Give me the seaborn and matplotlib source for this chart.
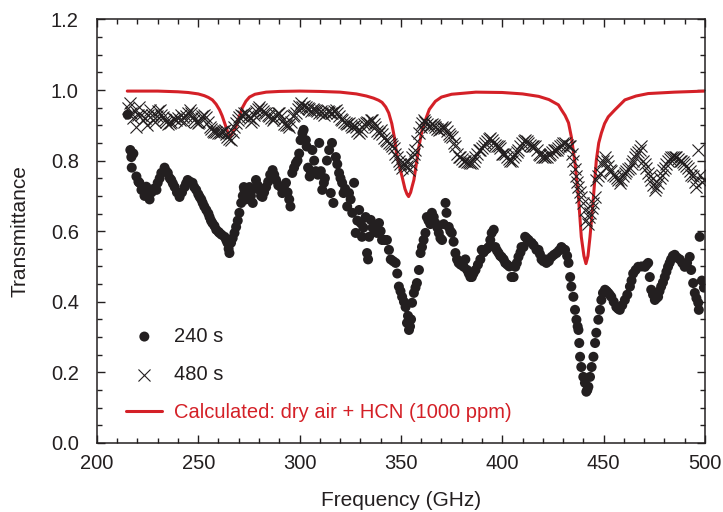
import numpy as np
import pandas as pd
import seaborn as sns
import matplotlib.pyplot as plt
from matplotlib.ticker import MultipleLocator

# measured transmittance, 240 s exposure (frequency GHz, transmittance)
pts_240 = [
    (215.2, 0.93), (216.5, 0.83), (217.0, 0.81), (217.2, 0.78), (218.0, 0.82), (219.5, 0.755),
    (220.5, 0.74), (221.0, 0.737), (222.0, 0.717), (222.6, 0.72), (223.5, 0.70), (224.4, 0.726),
    (225.2, 0.70), (226.0, 0.69), (227.0, 0.71), (228.0, 0.72), (229.4, 0.717), (230.0, 0.737),
    (231.0, 0.75), (231.8, 0.765), (233.4, 0.78), (234.2, 0.77), (235.0, 0.765), (236.0, 0.75),
    (236.7, 0.745), (237.5, 0.735), (238.4, 0.725), (239.5, 0.71), (240.8, 0.697), (242.0, 0.71),
    (243.3, 0.725), (244.0, 0.735), (244.8, 0.745), (246.0, 0.74), (247.2, 0.737), (248.0, 0.725),
    (249.0, 0.717), (250.0, 0.705), (250.7, 0.697), (251.5, 0.69), (252.2, 0.68), (253.0, 0.67),
    (254.0, 0.66), (255.0, 0.65), (255.6, 0.64), (256.3, 0.63), (257.0, 0.623), (258.0, 0.615),
    (258.9, 0.604), (260.0, 0.598), (260.5, 0.595), (261.5, 0.59), (263.0, 0.584), (263.8, 0.575),
    (264.4, 0.567), (265.0, 0.55), (265.4, 0.538), (266.2, 0.567), (267.0, 0.58), (267.9, 0.595),
    (268.7, 0.612), (269.5, 0.63), (270.3, 0.652), (271.2, 0.68), (272.0, 0.70), (272.5, 0.725),
    (272.8, 0.717), (273.5, 0.69), (274.5, 0.71), (275.3, 0.725), (276.0, 0.70), (276.9, 0.68),
    (277.5, 0.72), (278.5, 0.745), (279.3, 0.73), (280.2, 0.717), (281.0, 0.70), (281.7, 0.697),
    (282.5, 0.71), (283.5, 0.725), (284.5, 0.74), (285.5, 0.76), (286.7, 0.773), (287.5, 0.76),
    (288.4, 0.745), (289.5, 0.73), (290.8, 0.725), (291.5, 0.708), (292.3, 0.72), (293.3, 0.737),
    (294.1, 0.71), (294.9, 0.69), (295.5, 0.67), (296.4, 0.765), (297.3, 0.78), (298.2, 0.793),
    (299.0, 0.80), (299.8, 0.82), (300.5, 0.858), (301.4, 0.878), (302.0, 0.887), (303.1, 0.858),
    (303.5, 0.84), (304.2, 0.78), (305.0, 0.755), (305.5, 0.77), (306.3, 0.83), (307.2, 0.80),
    (308.0, 0.77), (309.0, 0.76), (309.7, 0.85), (310.5, 0.77), (311.2, 0.717), (312.0, 0.737),
    (312.5, 0.75), (313.5, 0.80), (314.6, 0.83), (315.4, 0.708), (316.0, 0.85), (316.7, 0.68),
    (317.9, 0.81), (318.6, 0.79), (319.5, 0.765), (320.2, 0.75), (321.0, 0.737), (321.7, 0.708),
    (322.5, 0.72), (323.5, 0.67), (324.4, 0.708), (325.2, 0.69), (326.0, 0.652), (326.9, 0.737),
    (327.7, 0.595), (328.5, 0.63), (329.4, 0.66), (330.2, 0.623), (330.8, 0.584), (331.5, 0.61),
    (332.6, 0.64), (333.3, 0.538), (333.8, 0.52), (334.3, 0.584), (335.1, 0.632), (336.0, 0.61),
    (337.0, 0.60), (338.2, 0.595), (339.2, 0.623), (340.0, 0.60), (340.7, 0.575), (341.9, 0.575),
    (343.1, 0.575), (344.1, 0.547), (345.0, 0.52), (346.2, 0.515), (347.4, 0.51), (348.2, 0.48),
    (349.0, 0.443), (349.8, 0.43), (350.6, 0.414), (351.5, 0.40), (352.3, 0.385), (353.0, 0.34),
    (353.5, 0.36), (354.0, 0.32), (354.5, 0.33), (355.0, 0.35), (355.5, 0.397), (356.4, 0.425),
    (357.2, 0.44), (357.9, 0.453), (358.9, 0.49), (359.7, 0.538), (360.4, 0.555), (361.2, 0.575),
    (362.1, 0.595), (362.8, 0.64), (363.6, 0.63), (364.5, 0.62), (365.3, 0.652), (366.2, 0.64),
    (367.0, 0.623), (368.0, 0.61), (368.7, 0.595), (369.5, 0.58), (370.3, 0.575), (371.1, 0.62),
    (372.0, 0.68), (372.5, 0.652), (373.6, 0.612), (374.4, 0.60), (375.1, 0.595), (376.0, 0.57),
    (376.9, 0.538), (377.7, 0.52), (378.5, 0.51), (379.5, 0.505), (381.0, 0.499), (381.8, 0.52),
    (382.7, 0.49), (383.5, 0.48), (384.3, 0.47), (385.0, 0.47), (385.8, 0.48), (386.8, 0.49),
    (388.0, 0.505), (389.2, 0.52), (389.9, 0.547), (390.8, 0.54), (391.6, 0.547), (392.5, 0.55),
    (393.3, 0.555), (394.1, 0.575), (394.8, 0.595), (395.8, 0.604), (396.6, 0.555), (397.4, 0.545),
    (398.2, 0.538), (399.0, 0.53), (399.7, 0.527), (400.7, 0.52), (401.5, 0.51), (402.5, 0.505),
    (403.5, 0.50), (404.6, 0.47), (405.6, 0.47), (406.4, 0.499), (407.2, 0.51), (408.0, 0.527),
    (409.0, 0.54), (409.5, 0.555), (410.5, 0.555), (411.3, 0.584), (412.0, 0.58), (413.0, 0.575),
    (414.5, 0.567), (415.5, 0.56), (416.9, 0.547), (417.9, 0.547), (418.6, 0.535), (419.4, 0.52),
    (420.3, 0.515), (421.2, 0.52), (421.8, 0.51), (423.0, 0.515), (424.3, 0.527), (425.5, 0.533),
    (426.8, 0.538), (428.0, 0.545), (429.2, 0.555), (430.0, 0.55), (431.0, 0.547), (432.0, 0.53),
    (432.7, 0.51), (433.5, 0.47), (434.1, 0.443), (435.1, 0.414), (435.9, 0.377), (436.6, 0.349),
    (437.2, 0.33), (437.6, 0.32), (438.0, 0.283), (438.4, 0.244), (439.0, 0.215), (440.0, 0.187),
    (440.8, 0.17), (441.5, 0.145), (442.0, 0.15), (442.5, 0.159), (443.3, 0.187), (444.1, 0.215),
    (445.0, 0.244), (445.8, 0.283), (446.4, 0.312), (447.4, 0.349), (448.2, 0.377), (448.9, 0.405),
    (449.7, 0.425), (450.7, 0.434), (451.5, 0.43), (452.3, 0.425), (453.0, 0.42), (453.8, 0.414),
    (455.0, 0.40), (456.3, 0.385), (457.2, 0.38), (458.0, 0.377), (459.2, 0.39), (460.5, 0.405),
    (461.7, 0.42), (463.0, 0.443), (463.8, 0.46), (464.6, 0.48), (465.8, 0.49), (467.1, 0.499),
    (468.7, 0.50), (470.4, 0.499), (471.2, 0.505), (472.0, 0.51), (472.8, 0.47), (473.5, 0.434),
    (474.4, 0.42), (475.3, 0.405), (476.1, 0.41), (476.9, 0.414), (477.6, 0.43), (478.4, 0.443),
    (479.3, 0.455), (480.2, 0.47), (481.0, 0.485), (481.8, 0.499), (482.6, 0.51), (483.3, 0.52),
    (484.2, 0.53), (485.1, 0.533), (486.3, 0.525), (487.6, 0.52), (488.8, 0.51), (490.0, 0.499),
    (491.2, 0.51), (492.5, 0.527), (493.2, 0.49), (494.2, 0.453), (495.0, 0.425), (495.8, 0.41),
    (496.7, 0.397), (497.0, 0.377), (497.4, 0.584), (498.5, 0.46), (499.5, 0.44),
]

# measured transmittance, 480 s exposure
pts_480 = [
    (215.5, 0.95), (216.2, 0.963), (217.0, 0.935), (218.0, 0.92), (219.0, 0.94), (219.5, 0.895),
    (220.3, 0.93), (221.0, 0.952), (222.0, 0.93), (222.8, 0.915), (223.6, 0.92), (224.5, 0.90),
    (225.3, 0.93), (226.0, 0.944), (227.0, 0.93), (227.8, 0.915), (228.6, 0.91), (229.5, 0.925),
    (230.2, 0.94), (231.0, 0.944), (231.8, 0.93), (232.5, 0.924), (233.4, 0.915), (234.2, 0.91),
    (235.0, 0.905), (235.9, 0.907), (236.8, 0.91), (237.6, 0.92), (238.4, 0.918), (239.2, 0.915),
    (240.0, 0.92), (241.0, 0.915), (241.6, 0.93), (242.3, 0.924), (243.2, 0.91), (244.0, 0.925),
    (244.8, 0.935), (245.7, 0.944), (246.5, 0.935), (247.3, 0.924), (248.1, 0.915), (248.9, 0.91),
    (249.7, 0.907), (250.5, 0.91), (251.3, 0.92), (252.1, 0.925), (253.0, 0.93), (253.9, 0.924),
    (254.7, 0.91), (255.6, 0.895), (256.4, 0.89), (257.2, 0.885), (258.0, 0.881), (258.9, 0.88),
    (259.7, 0.878), (260.5, 0.878), (261.3, 0.88), (262.2, 0.884), (263.0, 0.887), (263.7, 0.875),
    (264.4, 0.867), (265.2, 0.862), (266.2, 0.858), (267.0, 0.88), (267.8, 0.895), (268.7, 0.907),
    (269.5, 0.915), (270.3, 0.924), (271.2, 0.93), (272.0, 0.925), (272.8, 0.935), (273.6, 0.935),
    (274.4, 0.925), (275.3, 0.92), (276.1, 0.91), (276.9, 0.915), (277.7, 0.93), (278.5, 0.94),
    (279.4, 0.945), (280.2, 0.952), (281.0, 0.945), (281.9, 0.94), (282.7, 0.935), (283.5, 0.935),
    (284.3, 0.93), (285.1, 0.925), (286.0, 0.92), (286.7, 0.915), (287.5, 0.92), (288.3, 0.93),
    (289.2, 0.935), (290.0, 0.935), (290.8, 0.925), (291.7, 0.915), (292.5, 0.905), (293.3, 0.90),
    (294.1, 0.90), (294.9, 0.895), (295.8, 0.91), (296.6, 0.925), (297.4, 0.93), (298.2, 0.935),
    (299.0, 0.945), (299.8, 0.955), (300.6, 0.963), (301.4, 0.952), (302.2, 0.955), (303.1, 0.952),
    (304.0, 0.948), (304.8, 0.945), (305.6, 0.94), (306.4, 0.945), (307.2, 0.943), (308.0, 0.944),
    (308.8, 0.94), (309.7, 0.935), (310.5, 0.94), (311.3, 0.935), (312.1, 0.93), (313.0, 0.935),
    (313.8, 0.94), (314.6, 0.938), (315.4, 0.935), (316.1, 0.935), (317.0, 0.94), (317.9, 0.944),
    (318.7, 0.935), (319.5, 0.925), (320.3, 0.918), (321.1, 0.915), (322.0, 0.91), (322.8, 0.907),
    (323.6, 0.905), (324.4, 0.907), (325.2, 0.90), (326.0, 0.895), (326.9, 0.897), (327.7, 0.895),
    (328.5, 0.885), (329.4, 0.878), (330.2, 0.885), (331.0, 0.895), (331.8, 0.905), (332.6, 0.907),
    (333.5, 0.91), (334.3, 0.907), (335.0, 0.915), (335.8, 0.915), (336.6, 0.905), (337.4, 0.895),
    (338.2, 0.885), (339.2, 0.878), (340.0, 0.887), (340.8, 0.875), (341.6, 0.865), (342.5, 0.858),
    (343.3, 0.855), (344.1, 0.85), (344.9, 0.848), (345.6, 0.84), (346.4, 0.835), (347.2, 0.82),
    (348.0, 0.81), (349.0, 0.80), (349.8, 0.79), (350.6, 0.78), (351.4, 0.79), (352.3, 0.80),
    (353.1, 0.785), (354.0, 0.773), (354.8, 0.79), (355.5, 0.81), (356.4, 0.82), (357.2, 0.83),
    (358.1, 0.855), (358.9, 0.878), (359.7, 0.895), (360.4, 0.907), (361.2, 0.915), (362.0, 0.91),
    (362.9, 0.905), (363.8, 0.895), (364.6, 0.90), (365.4, 0.905), (366.2, 0.90), (367.0, 0.895),
    (367.9, 0.89), (368.7, 0.887), (369.6, 0.89), (370.4, 0.895), (371.2, 0.893), (372.0, 0.895),
    (372.8, 0.885), (373.6, 0.875), (374.4, 0.87), (375.1, 0.867), (376.0, 0.85), (376.9, 0.84),
    (377.7, 0.82), (378.5, 0.81), (379.3, 0.81), (380.1, 0.805), (381.0, 0.80), (381.8, 0.80),
    (382.6, 0.795), (383.4, 0.795), (384.2, 0.793), (385.0, 0.793), (385.9, 0.80), (386.7, 0.81),
    (387.6, 0.82), (388.4, 0.83), (389.2, 0.83), (390.0, 0.835), (390.8, 0.84), (391.6, 0.85),
    (392.5, 0.855), (393.3, 0.86), (394.0, 0.865), (394.8, 0.858), (395.6, 0.85), (396.5, 0.845),
    (397.3, 0.84), (398.2, 0.84), (399.0, 0.835), (399.7, 0.82), (400.6, 0.82), (401.5, 0.82),
    (402.3, 0.81), (403.1, 0.805), (403.9, 0.80), (404.6, 0.80), (405.4, 0.81), (406.2, 0.815),
    (407.1, 0.825), (408.0, 0.83), (408.8, 0.84), (409.6, 0.85), (410.5, 0.855), (411.3, 0.858),
    (412.1, 0.855), (412.9, 0.85), (413.8, 0.845), (414.6, 0.84), (415.4, 0.84), (416.2, 0.84),
    (417.0, 0.83), (417.9, 0.82), (418.7, 0.815), (419.5, 0.81), (420.4, 0.81), (421.2, 0.81),
    (422.0, 0.81), (422.9, 0.815), (423.7, 0.82), (424.5, 0.825), (425.3, 0.83), (426.1, 0.83),
    (426.8, 0.83), (427.7, 0.835), (428.5, 0.84), (429.3, 0.845), (430.2, 0.85), (431.0, 0.85),
    (431.8, 0.845), (432.7, 0.84), (433.5, 0.84), (434.3, 0.82), (435.1, 0.80), (435.9, 0.775),
    (436.6, 0.755), (437.1, 0.74), (437.6, 0.725), (438.3, 0.71), (439.0, 0.697), (439.8, 0.68),
    (440.8, 0.66), (441.5, 0.632), (442.1, 0.62), (442.7, 0.64), (443.3, 0.652), (444.1, 0.665),
    (445.0, 0.68), (445.8, 0.697), (446.4, 0.745), (447.3, 0.755), (448.2, 0.765), (449.0, 0.79),
    (449.8, 0.80), (450.7, 0.81), (451.5, 0.80), (452.3, 0.785), (453.1, 0.773), (453.9, 0.77),
    (454.8, 0.76), (455.6, 0.755), (456.4, 0.75), (457.2, 0.745), (458.0, 0.737), (458.8, 0.745),
    (459.7, 0.755), (460.5, 0.765), (461.3, 0.77), (462.1, 0.775), (463.0, 0.78), (463.8, 0.79),
    (464.6, 0.80), (465.4, 0.81), (466.2, 0.82), (467.0, 0.825), (467.8, 0.83), (468.6, 0.84),
    (469.4, 0.80), (470.3, 0.79), (471.0, 0.78), (471.8, 0.765), (472.7, 0.755), (473.5, 0.745),
    (474.4, 0.73), (475.3, 0.717), (476.1, 0.725), (476.9, 0.737), (477.7, 0.75), (478.6, 0.76),
    (479.4, 0.773), (480.2, 0.78), (481.0, 0.79), (481.8, 0.80), (482.6, 0.805), (483.4, 0.81),
    (484.3, 0.81), (485.1, 0.81), (485.9, 0.81), (486.7, 0.805), (487.5, 0.80), (488.2, 0.80),
    (489.0, 0.795), (489.9, 0.79), (490.7, 0.785), (491.6, 0.78), (492.4, 0.77), (493.3, 0.76),
    (494.2, 0.755), (495.0, 0.74), (495.8, 0.725), (496.7, 0.83), (497.5, 0.76), (498.5, 0.74),
    (499.5, 0.745),
]

# calculated curve: dry air + HCN (1000 ppm)
calc_freq = [215, 230, 240, 245, 250, 253, 255, 257, 258.8, 260.5, 261.8, 263, 264.2, 265.4,
             266.5, 267.6, 268.7, 270.3, 271.8, 273.5, 275.3, 278, 283.5, 290, 300, 310, 320,
             328, 333, 336.5, 339, 340.7, 342.5, 344, 345.5, 346.8, 347.6, 349, 350.6, 352,
             353, 353.8, 354.8, 355.6, 356.4, 357.6, 358.9, 360.4, 362.1, 364, 367, 370, 375,
             387, 400, 410, 418, 423, 427.7, 429.2, 431, 432.7, 434.1, 435.9, 437.6, 439,
             440.3, 441.3, 442.3, 443.3, 445, 446.4, 447.6, 448.9, 450.5, 452.3, 455.6,
             460.5, 466, 472, 485, 500]
calc_trans = [0.997, 0.997, 0.995, 0.993, 0.989, 0.984, 0.979, 0.972, 0.96, 0.944, 0.927, 0.907,
              0.887, 0.866, 0.875, 0.885, 0.897, 0.925, 0.95, 0.968, 0.98, 0.988, 0.994, 0.996,
              0.997, 0.996, 0.994, 0.989, 0.983, 0.977, 0.971, 0.965, 0.952, 0.935, 0.905,
              0.865, 0.83, 0.79, 0.754, 0.72, 0.705, 0.698, 0.71, 0.728, 0.745, 0.79, 0.84,
              0.885, 0.915, 0.945, 0.968, 0.98, 0.988, 0.994, 0.993, 0.989, 0.982, 0.973,
              0.958, 0.944, 0.928, 0.907, 0.867, 0.793, 0.697, 0.584, 0.53, 0.508, 0.53, 0.584,
              0.697, 0.80, 0.85, 0.878, 0.905, 0.924, 0.944, 0.972, 0.983, 0.99, 0.994, 0.997]

ink = '#231f20'
red = '#d42027'

df240 = pd.DataFrame(pts_240, columns=['freq', 'trans'])
df480 = pd.DataFrame(pts_480, columns=['freq', 'trans'])
dfcalc = pd.DataFrame({'freq': calc_freq, 'trans': calc_trans})

sns.set_style('ticks')
plt.rcParams['font.family'] = ['Liberation Sans', 'DejaVu Sans']
plt.rcParams['xtick.direction'] = 'in'
plt.rcParams['ytick.direction'] = 'in'

fig = plt.figure(figsize=(7.23, 5.12), dpi=100)
ax = fig.add_axes([0.134, 0.135, 0.841, 0.827])

sns.lineplot(x='freq', y='trans', data=dfcalc, color=red, linewidth=2.2, ax=ax,
             label='Calculated: dry air + HCN (1000 ppm)', zorder=2)
sns.scatterplot(x='freq', y='trans', data=df480, marker='x', color=ink, s=75,
                linewidth=0.8, ax=ax, label='480 s', zorder=3)
sns.scatterplot(x='freq', y='trans', data=df240, marker='o', color=ink, s=52,
                edgecolor='none', ax=ax, label='240 s', zorder=4)

ax.set_xlim(200, 500)
ax.set_ylim(0, 1.2)
ax.xaxis.set_major_locator(MultipleLocator(50))
ax.xaxis.set_minor_locator(MultipleLocator(10))
ax.yaxis.set_major_locator(MultipleLocator(0.2))
ax.yaxis.set_minor_locator(MultipleLocator(0.05))
ax.yaxis.set_major_formatter(plt.FormatStrFormatter('%.1f'))
ax.tick_params(which='both', top=True, right=True, colors=ink, width=1, labelsize=14.5,
               labelcolor=ink)
ax.tick_params(which='major', length=6)
ax.tick_params(axis='y', which='major', pad=13)
ax.tick_params(axis='x', which='major', pad=8)
ax.tick_params(which='minor', length=3.5)
for sp in ax.spines.values():
    sp.set_color(ink)
    sp.set_linewidth(1.1)

ax.set_xlabel('Frequency (GHz)', fontsize=15, color=ink, labelpad=13)
ax.set_ylabel('Transmittance', fontsize=15, color=ink, labelpad=15)

handles, labels = ax.get_legend_handles_labels()
order = [labels.index('240 s'), labels.index('480 s'), labels.index('Calculated: dry air + HCN (1000 ppm)')]
leg = ax.legend([handles[i] for i in order], [labels[i] for i in order],
                loc='lower left', bbox_to_anchor=(0.035, 0.03), frameon=False,
                fontsize=14.5, handlelength=1.8, handletextpad=0.55, labelspacing=0.95,
                borderaxespad=0)
for txt in leg.get_texts():
    txt.set_color(ink)
leg.get_texts()[2].set_color(red)

fig.savefig('out.png', dpi=100)
